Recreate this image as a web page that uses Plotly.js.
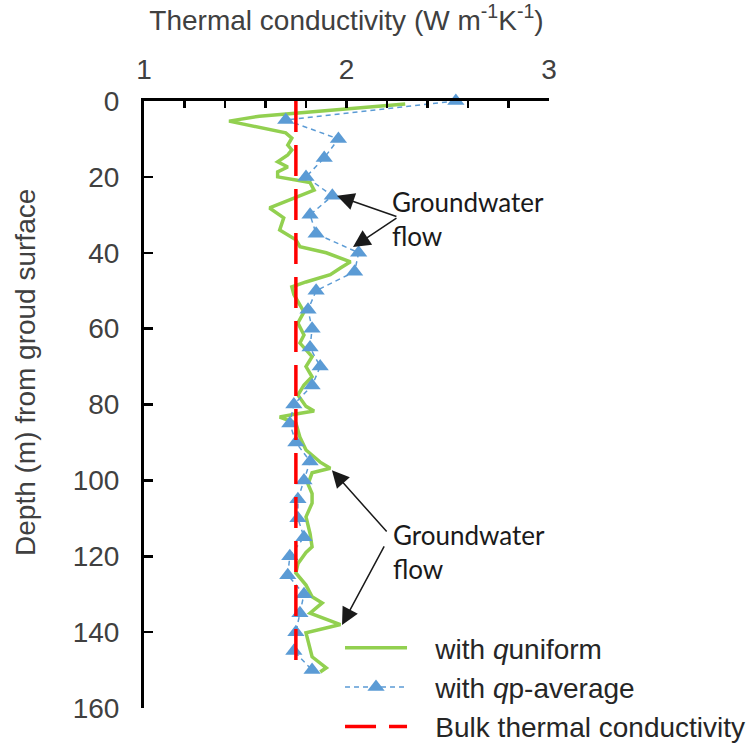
<!DOCTYPE html>
<html>
<head>
<meta charset="utf-8">
<script src="https://cdn.plot.ly/plotly-3.0.1.min.js"></script>
<style>html,body{margin:0;padding:0;background:#fff;}</style>
</head>
<body>
<div id="chart" style="width:753px;height:751px;"></div>
<script>
// ---- data ----
const depthBlue = [0,5,10,15,20,25,30,35,40,45,50,55,60,65,70,75,80,85,90,95,100,105,110,115,120,125,130,135,140,145,150];
const kBlue = [2.54,1.70,1.96,1.89,1.80,1.93,1.82,1.85,2.06,2.04,1.85,1.81,1.83,1.82,1.87,1.83,1.74,1.72,1.75,1.82,1.79,1.76,1.76,1.79,1.72,1.71,1.79,1.77,1.75,1.74,1.83];

const depthGreen = [0.8,2.4,3.2,4.0,5.3,6.2,7.1,8.4,9.8,11.6,12.9,14.2,16.0,17.4,18.7,20.0,20.8,21.5,23.5,25.5,27.4,28.2,30.8,34.0,36.6,38.4,40.0,42.4,44.0,45.8,47.7,49.0,51.0,53.0,55.6,58.5,61.7,63.8,67.4,70.0,72.7,74.9,77.5,80.5,81.7,82.5,83.3,84.9,88.6,92.0,95.2,96.8,98.0,101.0,103.5,106.0,109.6,114.0,117.5,119.0,122.0,124.4,127.6,130.7,132.3,135.0,138.0,140.2,143.9,146.5,149.4,150.5];
const kGreen = [2.29,1.92,1.72,1.57,1.42,1.50,1.60,1.70,1.73,1.71,1.73,1.71,1.66,1.71,1.66,1.66,1.75,1.82,1.84,1.75,1.66,1.62,1.69,1.67,1.75,1.77,1.90,2.02,1.97,1.92,1.80,1.73,1.74,1.76,1.79,1.76,1.79,1.77,1.83,1.80,1.83,1.79,1.76,1.80,1.84,1.75,1.67,1.75,1.77,1.80,1.87,1.92,1.83,1.81,1.83,1.83,1.80,1.82,1.83,1.80,1.76,1.75,1.80,1.83,1.88,1.82,1.97,1.80,1.82,1.83,1.90,1.87];

const bulkDepth = [0, 150];
const bulkK = [1.75, 1.75];

const pad = '\u00a0\u00a0\u00a0';
const legendNames = [pad + 'with <i>q</i>uniform', pad + 'with <i>q</i>p-average', pad + 'Bulk thermal conductivity'];
const xTitle = 'Thermal conductivity (W m<sup>-1</sup>K<sup>-1</sup>)';
const yTitle = 'Depth (m) from groud surface';
const noteText = 'Groundwater<br>flow';

// ---- traces ----
const traces = [
  {x: kGreen, y: depthGreen, type: 'scatter', mode: 'lines', name: legendNames[0],
   line: {color: '#92D050', width: 3.5}, cliponaxis: false},
  {x: kBlue, y: depthBlue, type: 'scatter', mode: 'lines+markers', name: legendNames[1],
   line: {color: '#5B9BD5', width: 1.5, dash: '5px,4px'},
   marker: {symbol: 'triangle-up', size: 15, color: '#5B9BD5'}, cliponaxis: false},
  {x: bulkK, y: bulkDepth, type: 'scatter', mode: 'lines', name: legendNames[2],
   line: {color: '#FF0000', width: 3.5, dash: '31px,13px'}, cliponaxis: false}
];

const tickFont = {family: 'Liberation Sans, Arial, sans-serif', size: 28, color: '#404040'};
const noteFont = {family: 'Lato, sans-serif', size: 26, color: '#1a1a1a'};
const arrowBase = {xref: 'x', yref: 'y', axref: 'x', ayref: 'y', text: '', showarrow: true,
  arrowhead: 2, arrowsize: 2.3, arrowwidth: 1.5, arrowcolor: '#1a1a1a'};

const layout = {
  width: 753, height: 751,
  margin: {l: 144, r: 204, t: 101, b: 43, autoexpand: false},
  paper_bgcolor: '#ffffff', plot_bgcolor: '#ffffff',
  showlegend: true,
  legend: {x: 0.484, xanchor: 'left', y: 0.14, yanchor: 'top', bgcolor: 'rgba(0,0,0,0)',
    font: {family: 'Liberation Sans, Arial, sans-serif', size: 28, color: '#262626'}, itemwidth: 62},
  xaxis: {
    side: 'top', range: [1, 3], tick0: 1, dtick: 1, showgrid: false, zeroline: false,
    showline: true, linecolor: '#000', linewidth: 3,
    ticks: 'inside', ticklen: 7, tickwidth: 2.5, tickcolor: '#000',
    minor: {dtick: 0.2, ticks: 'inside', ticklen: 7, tickwidth: 2.5, tickcolor: '#000', showgrid: false},
    tickfont: tickFont, ticklabelstandoff: 8,
    title: {text: xTitle, font: tickFont, standoff: 18}
  },
  yaxis: {
    range: [160, 0], tick0: 0, dtick: 20, showgrid: false, zeroline: false,
    showline: true, linecolor: '#000', linewidth: 3,
    ticks: 'inside', ticklen: 9, tickwidth: 2.5, tickcolor: '#000',
    tickfont: tickFont, ticklabelstandoff: 16,
    title: {text: ''}
  },
  annotations: [
    Object.assign({}, arrowBase, {x: 1.953, y: 25.0, ax: 2.254, ay: 30.6}),
    Object.assign({}, arrowBase, {x: 2.032, y: 38.5, ax: 2.254, ay: 30.6}),
    Object.assign({}, arrowBase, {x: 1.928, y: 97.3, ax: 2.205, ay: 113.9}),
    Object.assign({}, arrowBase, {x: 1.978, y: 138.1, ax: 2.190, ay: 117.0}),
    {x: 2.215, y: 31.2, xref: 'x', yref: 'y', text: noteText, showarrow: false,
     xanchor: 'left', yanchor: 'middle', align: 'left', font: noteFont},
    {x: 2.22, y: 119.0, xref: 'x', yref: 'y', text: noteText, showarrow: false,
     xanchor: 'left', yanchor: 'middle', align: 'left', font: noteFont},
    {x: -0.294, y: 0.5535, xref: 'paper', yref: 'paper', text: yTitle, textangle: -90,
     showarrow: false, xanchor: 'center', yanchor: 'middle', font: tickFont}
  ]
};

Plotly.newPlot('chart', traces, layout, {displayModeBar: false, staticPlot: true});
</script>
</body>
</html>
